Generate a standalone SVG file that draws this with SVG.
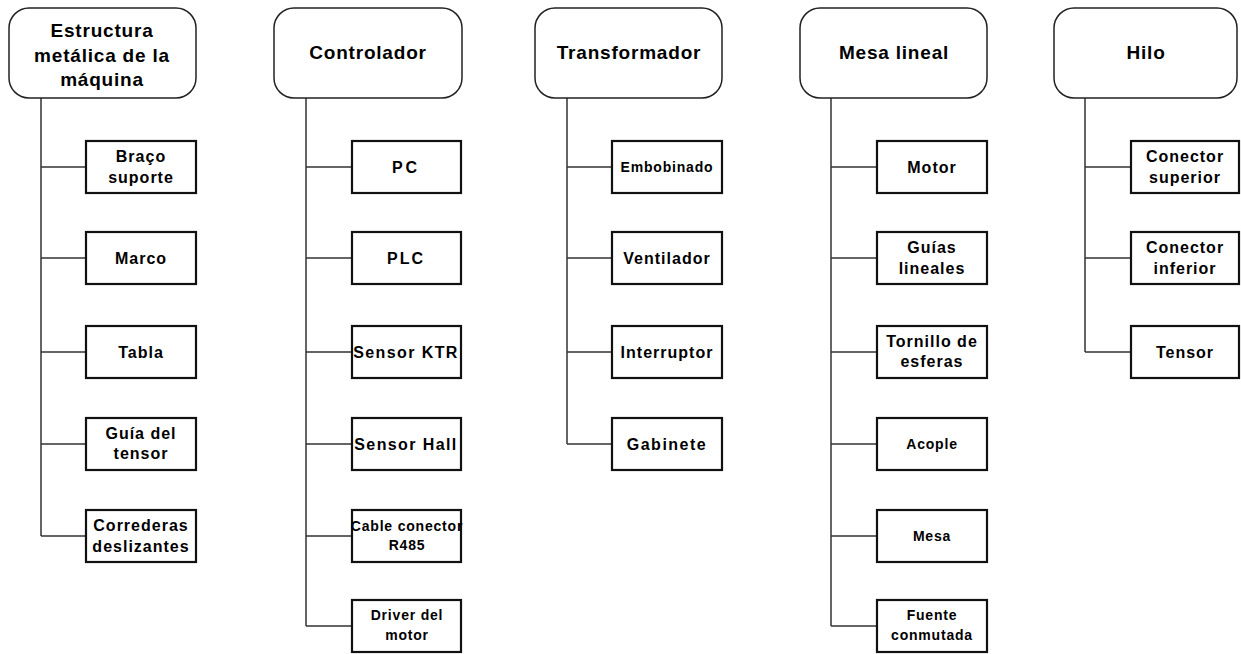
<svg xmlns="http://www.w3.org/2000/svg" width="1241" height="654" viewBox="0 0 1241 654">
<style>
.hdr{fill:#fff;stroke:#222;stroke-width:1.5}
.box{fill:#fff;stroke:#111;stroke-width:2.2}
.ht{font-family:"Liberation Sans",Arial,sans-serif;font-weight:bold;font-size:19px;letter-spacing:0.8px;fill:#000;text-anchor:middle}
.ct{font-family:"Liberation Sans",Arial,sans-serif;font-weight:bold;font-size:16px;letter-spacing:1px;fill:#000;text-anchor:middle}
.sm{font-size:14px;letter-spacing:0.8px}
.ln{stroke:#333;stroke-width:1.5;fill:none}
</style>
<rect width="1241" height="654" fill="#fff"/>
<g id="connectors" class="ln">
<path d="M41 98V536M41 167H86M41 258H86M41 352H86M41 444H86M41 536H86"/>
<path d="M306 98V626M306 167H352M306 258H352M306 352H352M306 444H352M306 536H352M306 626H352"/>
<path d="M567 98V444M567 167H612M567 258H612M567 352H612M567 444H612"/>
<path d="M831 98V626M831 167H877M831 258H877M831 352H877M831 444H877M831 536H877M831 626H877"/>
<path d="M1085 98V352M1085 167H1131M1085 258H1131M1085 352H1131"/>
</g>
<g id="h1"><rect class="hdr" x="9" y="8" width="187" height="90" rx="20"/>
<text class="ht" x="102" y="37">Estructura</text><text class="ht" x="102" y="61.5">metálica de la</text><text class="ht" x="102" y="86">máquina</text></g>
<g id="h2"><rect class="hdr" x="274" y="8" width="188" height="90" rx="20"/><text class="ht" x="368" y="59">Controlador</text></g>
<g id="h3"><rect class="hdr" x="535" y="8" width="187" height="90" rx="20"/><text class="ht" x="629" y="59">Transformador</text></g>
<g id="h4"><rect class="hdr" x="800" y="8" width="187" height="90" rx="20"/><text class="ht" x="894" y="59">Mesa lineal</text></g>
<g id="h5"><rect class="hdr" x="1054" y="8" width="183" height="90" rx="20"/><text class="ht" x="1146" y="59">Hilo</text></g>

<g id="e1"><rect class="box" x="86" y="141" width="110" height="52"/><text class="ct" x="141" y="161.5">Braço</text><text class="ct" x="141" y="183">suporte</text></g>
<g id="e2"><rect class="box" x="86" y="232" width="110" height="52"/><text class="ct" x="141" y="263.5">Marco</text></g>
<g id="e3"><rect class="box" x="86" y="326" width="110" height="52"/><text class="ct" x="141" y="357.5">Tabla</text></g>
<g id="e4"><rect class="box" x="86" y="418" width="110" height="52"/><text class="ct" x="141" y="438.5">Guía del</text><text class="ct" x="141" y="459">tensor</text></g>
<g id="e5"><rect class="box" x="86" y="510" width="110" height="52"/><text class="ct" x="141" y="530.5">Correderas</text><text class="ct" x="141" y="552">deslizantes</text></g>

<g id="c1"><rect class="box" x="352" y="141" width="109" height="52"/><text class="ct" x="406" y="172.5" style="letter-spacing:3px">PC</text></g>
<g id="c2"><rect class="box" x="352" y="232" width="109" height="52"/><text class="ct" x="406" y="263.5" style="letter-spacing:2px">PLC</text></g>
<g id="c3"><rect class="box" x="352" y="326" width="109" height="52"/><text class="ct" x="406" y="357.5" style="letter-spacing:1.4px">Sensor KTR</text></g>
<g id="c4"><rect class="box" x="352" y="418" width="109" height="52"/><text class="ct" x="406" y="449.5" style="letter-spacing:1.4px">Sensor Hall</text></g>
<g id="c5"><rect class="box" x="352" y="510" width="109" height="52"/><text class="ct sm" x="407" y="531">Cable conector</text><text class="ct sm" x="407" y="550">R485</text></g>
<g id="c6"><rect class="box" x="352" y="600" width="109" height="52"/><text class="ct sm" x="407" y="620">Driver del</text><text class="ct sm" x="407" y="640">motor</text></g>

<g id="t1"><rect class="box" x="612" y="141" width="110" height="52"/><text class="ct sm" x="667" y="172">Embobinado</text></g>
<g id="t2"><rect class="box" x="612" y="232" width="110" height="52"/><text class="ct" x="667" y="263.5">Ventilador</text></g>
<g id="t3"><rect class="box" x="612" y="326" width="110" height="52"/><text class="ct" x="667" y="357.5">Interruptor</text></g>
<g id="t4"><rect class="box" x="612" y="418" width="110" height="52"/><text class="ct" x="667" y="449.5" style="letter-spacing:1.5px">Gabinete</text></g>

<g id="m1"><rect class="box" x="877" y="141" width="110" height="52"/><text class="ct" x="932" y="172.5">Motor</text></g>
<g id="m2"><rect class="box" x="877" y="232" width="110" height="52"/><text class="ct" x="932" y="252.5">Guías</text><text class="ct" x="932" y="274">lineales</text></g>
<g id="m3"><rect class="box" x="877" y="326" width="110" height="52"/><text class="ct" x="932" y="346.5">Tornillo de</text><text class="ct" x="932" y="367">esferas</text></g>
<g id="m4"><rect class="box" x="877" y="418" width="110" height="52"/><text class="ct sm" x="932" y="449">Acople</text></g>
<g id="m5"><rect class="box" x="877" y="510" width="110" height="52"/><text class="ct sm" x="932" y="541">Mesa</text></g>
<g id="m6"><rect class="box" x="877" y="600" width="110" height="52"/><text class="ct sm" x="932" y="620">Fuente</text><text class="ct sm" x="932" y="640">conmutada</text></g>

<g id="f1"><rect class="box" x="1131" y="141" width="108" height="52"/><text class="ct" x="1185" y="161.5">Conector</text><text class="ct" x="1185" y="183">superior</text></g>
<g id="f2"><rect class="box" x="1131" y="232" width="108" height="52"/><text class="ct" x="1185" y="252.5">Conector</text><text class="ct" x="1185" y="274">inferior</text></g>
<g id="f3"><rect class="box" x="1131" y="326" width="108" height="52"/><text class="ct" x="1185" y="357.5">Tensor</text></g>
</svg>
